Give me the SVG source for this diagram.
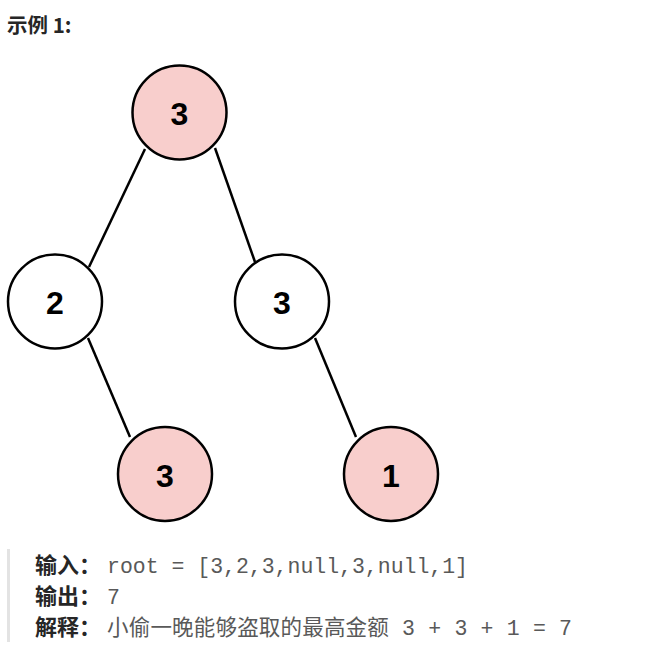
<svg xmlns="http://www.w3.org/2000/svg" width="657" height="656" viewBox="0 0 657 656">
  <style>
    .node circle { stroke: #000; stroke-width: 2.5; }
    .red circle { fill: #f8cecc; }
    .white circle { fill: #fff; }
    .node text { font-family: "Liberation Sans", Arial, sans-serif; font-weight: bold; font-size: 32px; fill: #000; text-anchor: middle; dominant-baseline: central; }
    .edge { stroke: #000; stroke-width: 2.5; fill: none; }
    .lbl { font-family: "Noto Sans CJK SC", sans-serif; font-weight: bold; font-size: 22px; fill: #262626; }
    .val { font-family: "Liberation Mono", "Noto Sans CJK SC", monospace; font-size: 21.5px; fill: #595959; }
  </style>
  <rect width="657" height="656" fill="#fff"/>
  <text x="7" y="33" font-family="'Noto Sans CJK SC', sans-serif" font-weight="bold" font-size="20.5" fill="#262626">示例 1:</text>

  <g id="connectors">
    <line class="edge" x1="145" y1="149" x2="89" y2="267"/>
    <line class="edge" x1="215" y1="148" x2="255" y2="262"/>
    <line class="edge" x1="88" y1="338" x2="130" y2="437"/>
    <line class="edge" x1="315" y1="338" x2="356" y2="437"/>
  </g>

  <g id="node-root" class="node red">
    <circle cx="179.5" cy="112.5" r="47"/>
    <text x="179.5" y="114">3</text>
  </g>
  <g id="node-left" class="node white">
    <circle cx="55" cy="301.5" r="47"/>
    <text x="55" y="303">2</text>
  </g>
  <g id="node-right" class="node white">
    <circle cx="282" cy="301.5" r="47"/>
    <text x="282" y="303">3</text>
  </g>
  <g id="node-left-right" class="node red">
    <circle cx="165" cy="474" r="47"/>
    <text x="165" y="475.5">3</text>
  </g>
  <g id="node-right-right" class="node red">
    <circle cx="391" cy="474" r="47"/>
    <text x="391" y="475.5">1</text>
  </g>

  <rect x="7" y="549" width="3" height="93" fill="#e3e3e3"/>
  <text class="lbl" x="35" y="573">输入：</text>
  <text class="val" x="107" y="573" textLength="361" lengthAdjust="spacing">root = [3,2,3,null,3,null,1]</text>
  <text class="lbl" x="35" y="604">输出：</text>
  <text class="val" x="107" y="604">7</text>
  <text class="lbl" x="35" y="635">解释：</text>
  <text class="val" x="107" y="635" textLength="465" lengthAdjust="spacing">小偷一晚能够盗取的最高金额 3 + 3 + 1 = 7</text>
</svg>
